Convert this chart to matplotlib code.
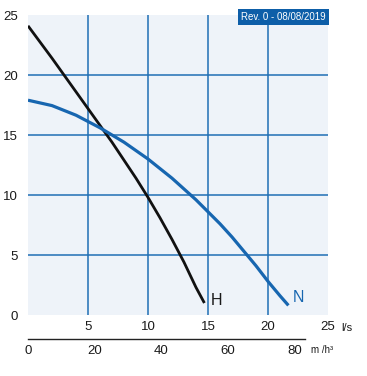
import numpy as np
import matplotlib
matplotlib.use("Agg")
import matplotlib.pyplot as plt

plt.rcParams["font.family"] = ["Liberation Sans", "DejaVu Sans"]

# curves (flow in l/s, head in m)
h_flow = [0, 2, 3, 4, 5, 6, 7, 8, 9, 10, 11, 12, 13, 14, 14.7]
h_head = [24.1, 21.4, 20.0, 18.6, 17.2, 15.8, 14.4, 12.9, 11.4, 9.8, 8.1, 6.3, 4.4, 2.3, 1.0]
n_flow = [0, 2, 4, 6, 8, 10, 12, 13, 14, 15, 16, 17, 18, 19, 20, 21, 21.7]
n_head = [17.9, 17.45, 16.65, 15.6, 14.4, 13.0, 11.4, 10.5, 9.6, 8.6, 7.6, 6.5, 5.3, 4.1, 2.8, 1.6, 0.8]

ls_ticks = [5, 10, 15, 20, 25]
head_ticks = [0, 5, 10, 15, 20, 25]
m3h_ticks = [0, 20, 40, 60, 80]

grid_col = "#1f6fb4"
blue = "#1766b0"
bg = "#eef3f9"
txt = "#1a1a1a"

W, H = 367, 376
fig = plt.figure(figsize=(W / 100, H / 100), dpi=100)

x0, x1 = 28, 328
y_top, y_bot = 15, 315
ax = fig.add_axes([x0 / W, 1 - y_bot / H, (x1 - x0) / W, (y_bot - y_top) / H])
ax.set_facecolor(bg)
ax.set_xlim(0, 25)
ax.set_ylim(0, 25)
for s in ax.spines.values():
    s.set_visible(False)

for v in [5, 10, 15, 20]:
    ax.axvline(v, color=grid_col, lw=1.1, zorder=1)
    ax.axhline(v, color=grid_col, lw=1.1, zorder=1)

ax.plot(h_flow, h_head, color="#111111", lw=2.0, zorder=3, solid_capstyle="butt")
ax.plot(n_flow, n_head, color=blue, lw=2.3, zorder=3, solid_capstyle="butt")
ax.text(15.2, 1.2, "H", color=txt, fontsize=11.5, va="center", ha="left")
ax.text(22.1, 1.5, "N", color=blue, fontsize=11.5, va="center", ha="left")

ax.set_xticks(ls_ticks)
ax.set_yticks(head_ticks)
ax.tick_params(length=0, labelsize=9.5, labelcolor=txt)
ax.tick_params(axis="x", pad=4)
ax.tick_params(axis="y", pad=7)
fig.text(341 / W, 1 - 328 / H, "l/s", fontsize=8, color=txt, ha="left", va="center")

# revision tag
ax.text(24.8, 24.85, "Rev. 0 - 08/08/2019", color="white", fontsize=7,
        ha="right", va="center", zorder=5,
        family=["Liberation Sans Narrow", "Liberation Sans", "DejaVu Sans"],
        bbox=dict(boxstyle="square,pad=0.3", fc="#0d5ea8", ec="none"))

# second flow scale in m3/h
ax2 = fig.add_axes([x0 / W, 1 - 339 / H, (x1 - x0) / W, 0.0001])
ax2.set_xlim(0, 25 * 3.6)
ax2.set_yticks([])
ax2.patch.set_visible(False)
for k in ["top", "left", "right"]:
    ax2.spines[k].set_visible(False)
ax2.spines["bottom"].set_bounds(0, 83)
ax2.spines["bottom"].set_color("#222222")
ax2.spines["bottom"].set_linewidth(1.0)
ax2.set_xticks(m3h_ticks)
ax2.tick_params(length=0, labelsize=9.5, labelcolor=txt, pad=4)
fig.text(311 / W, 1 - 350 / H, "m /h³", fontsize=7, color=txt, ha="left", va="center")

fig.savefig("out.png", dpi=100)
